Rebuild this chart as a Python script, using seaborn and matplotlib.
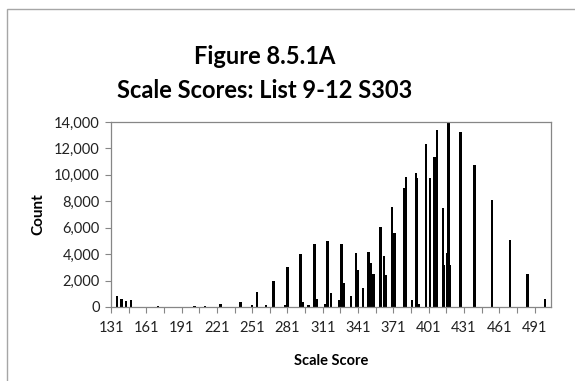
import matplotlib
matplotlib.use('Agg')
import matplotlib.pyplot as plt
import seaborn as sns
import pandas as pd
from matplotlib.ticker import FuncFormatter
from matplotlib.patches import Rectangle

# Data
scores = [136, 140, 144, 148, 171, 202, 211, 224, 241, 251, 255, 263, 269, 279, 281,
          292, 294, 299, 304, 306, 313, 315, 318, 325, 327, 329, 335, 339, 341, 345,
          350, 352, 354, 360, 363, 365, 370, 372, 380, 382, 387, 390, 391, 393,
          399, 402, 406, 408, 413, 414, 417, 418, 419, 428, 440, 455, 470, 485, 500]
counts = [820, 620, 420, 520, 100, 100, 100, 200, 400, 120, 1130, 120, 2000, 170, 3000,
          4000, 350, 120, 4780, 630, 230, 4980, 1030, 520, 4800, 1810, 830, 4100, 2800, 1420,
          4200, 3320, 2510, 6030, 3830, 2450, 7600, 5590, 8980, 9860, 520, 10160, 9760, 200,
          12370, 9780, 11360, 13430, 7500, 3160, 4050, 15500, 3210, 13250, 10740, 8100, 5090, 2520, 600]
x_labels = list(range(131, 492, 30))
x_minor = list(range(146, 505, 30))
y_ticks = list(range(0, 14001, 2000))

title_line1 = "Figure 8.5.1A"
title_line2 = "Scale Scores: List 9-12 S303"
x_title = "Scale Score"
y_title = "Count"

sns.set_theme(style='white')
plt.rcParams['font.family'] = ['Lato', 'DejaVu Sans']

W, H = 575, 381
fig = plt.figure(figsize=(W / 100, H / 100), dpi=100)
fig.patch.set_facecolor('white')
ax = fig.add_axes([111 / W, 1 - 307 / H, 440 / W, 185 / H])

df = pd.DataFrame({'score': scores, 'count': counts})
sns.barplot(data=df, x='score', y='count', native_scale=True, width=2.0,
            color='black', saturation=1, errorbar=None, linewidth=0, ax=ax)

ax.set_xlim(131, 505)
ax.set_ylim(0, 14000)
ax.set_xticks(x_labels)
ax.set_xticklabels([str(v) for v in x_labels])
ax.set_xticks(x_minor, minor=True)
ax.set_yticks(y_ticks)
ax.yaxis.set_major_formatter(FuncFormatter(lambda v, p: f"{int(v):,}"))

spine_col = '#868686'
for s in ax.spines.values():
    s.set_visible(True)
    s.set_color(spine_col)
    s.set_linewidth(0.9)
ax.tick_params(axis='both', which='both', direction='out', length=4, width=0.8,
               color=spine_col, labelsize=10.5, labelcolor='#222222')
ax.tick_params(axis='x', which='both', bottom=True, pad=6)
ax.tick_params(axis='y', left=True, pad=4)

ax.set_xlabel(x_title, fontsize=10.5, fontweight='bold', labelpad=14, color='black')
ax.set_ylabel(y_title, fontsize=11, fontweight='bold', labelpad=6, color='black')

fig.text(265 / W, 1 - 57 / H, title_line1, ha='center', va='center',
         fontsize=17, fontweight='bold', color='black')
fig.text(265 / W, 1 - 91 / H, title_line2, ha='center', va='center',
         fontsize=17, fontweight='bold', color='black')

fig.patches.append(Rectangle((7 / W, -0.1), 1.2, 1.1 - 9 / H, transform=fig.transFigure,
                             fill=False, edgecolor='#a6a6a6', linewidth=1.0))

fig.savefig('out.png', dpi=100)
